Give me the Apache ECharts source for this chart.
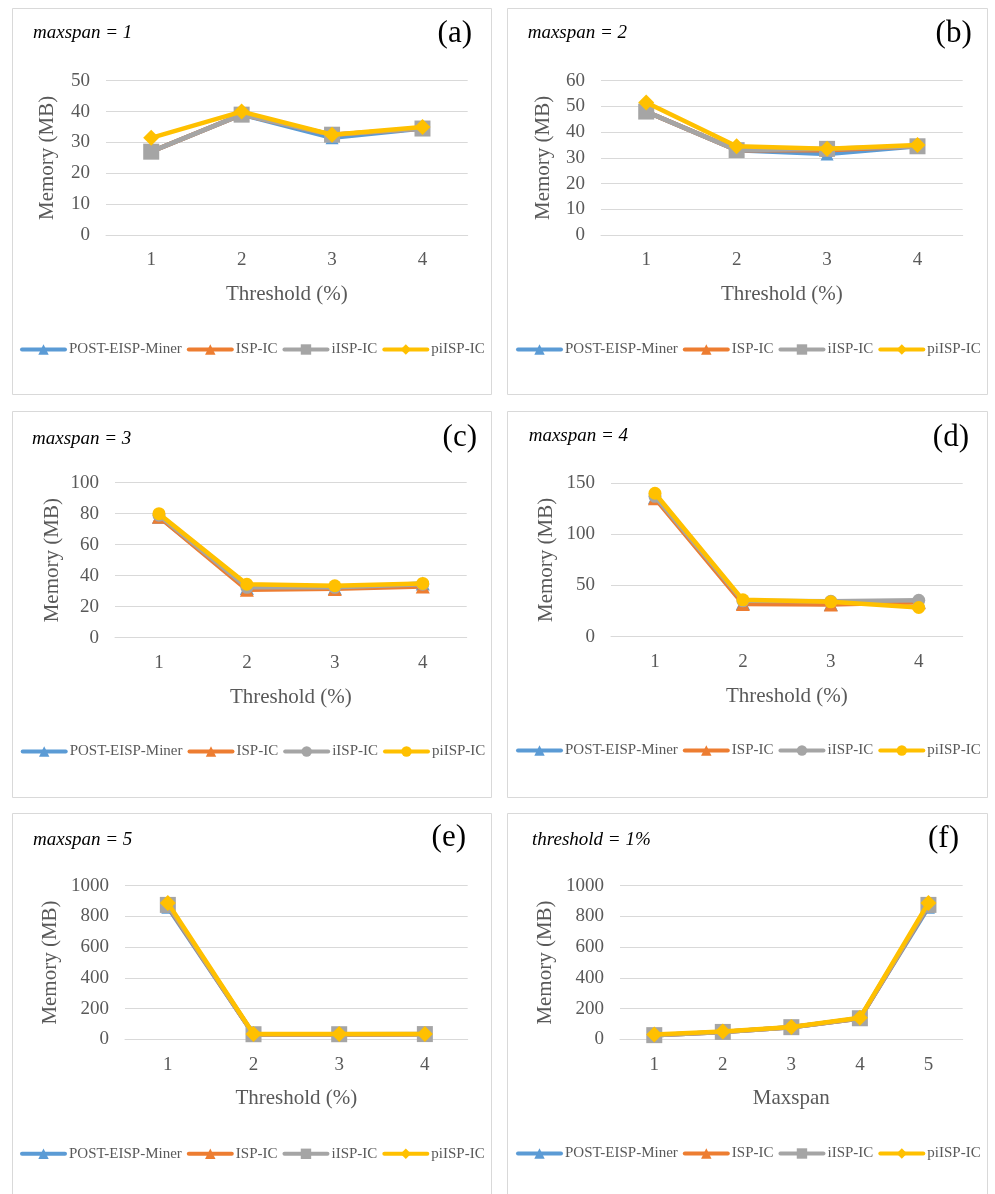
<!DOCTYPE html>
<html><head><meta charset="utf-8">
<script src="https://cdn.jsdelivr.net/npm/echarts@6/dist/echarts.min.js"></script>
<style>
html,body{margin:0;padding:0;background:#fff;width:995px;height:1194px;overflow:hidden;}
.p{position:absolute;}
</style></head><body>
<div id="pa" class="p" style="left:12px;top:8px;width:480px;height:387px"></div>
<div id="pb" class="p" style="left:507px;top:8px;width:481px;height:387px"></div>
<div id="pc" class="p" style="left:12px;top:411px;width:480px;height:387px"></div>
<div id="pd" class="p" style="left:507px;top:411px;width:481px;height:387px"></div>
<div id="pe" class="p" style="left:12px;top:813px;width:480px;height:387px"></div>
<div id="pf" class="p" style="left:507px;top:813px;width:481px;height:387px"></div>
<script>
// ---- data ----
const thresholdCats = ['1', '2', '3', '4'];
const maxspanCats = ['1', '2', '3', '4', '5'];
const seriesNames = ['POST-EISP-Miner', 'ISP-IC', 'iISP-IC', 'piISP-IC'];

// (a) maxspan = 1
const a_post  = [27, 39, 31.5, 34.5];
const a_isp   = [27, 39, 32.5, 34.5];
const a_iisp  = [27, 39, 32.5, 34.5];
const a_piisp = [31.5, 40, 32.5, 35];
// (b) maxspan = 2
const b_post  = [48, 33, 31.5, 34.5];
const b_isp   = [48, 33, 33, 34.5];
const b_iisp  = [48, 33, 33.5, 34.5];
const b_piisp = [51.5, 34.5, 33.5, 35];
// (c) maxspan = 3
const c_post  = [78, 32, 32, 35];
const c_isp   = [78, 31, 31.5, 33];
const c_iisp  = [79, 32.5, 32.5, 34.5];
const c_piisp = [80, 34.5, 33.5, 35];
// (d) maxspan = 4
const d_post  = [136, 33, 32, 34];
const d_isp   = [135, 32, 31.5, 33.5];
const d_iisp  = [137, 35, 34.5, 35.5];
const d_piisp = [140, 36, 34, 28.5];
// (e) maxspan = 5
const e_post  = [860, 32, 32, 33];
const e_isp   = [870, 32, 32, 33];
const e_iisp  = [875, 33, 33, 34];
const e_piisp = [888, 35, 34, 35];
// (f) threshold = 1%
const f_post  = [27, 48, 78, 136, 860];
const f_isp   = [27, 48, 78, 135, 870];
const f_iisp  = [27, 48, 79, 137, 875];
const f_piisp = [31.5, 51.5, 80, 140, 888];

// ---- styling ----
const COLORS = ['#5B9BD5', '#ED7D31', '#A5A5A5', '#FFC000'];
const SERIF = "'Liberation Serif', 'Times New Roman', serif";
const GRAY_TXT = '#595959';
const GRID_LINE = '#D9D9D9';
const SYM_SQ = ['triangle', 'triangle', 'rect', 'diamond'];
const SYM_CI = ['triangle', 'triangle', 'circle', 'circle'];
const SIZE_SQ = [13, 13, 16, 16];
const SIZE_CI = [14, 14, 13, 13];

function buildPanel(id, cfg) {
  const el = document.getElementById(id);
  const chart = echarts.init(el, null, {renderer: 'canvas'});
  const w = el.clientWidth, h = el.clientHeight;
  const series = cfg.data.map((d, i) => ({
    name: seriesNames[i],
    type: 'line',
    data: d,
    symbol: cfg.symbols[i],
    symbolSize: cfg.sizes[i],
    showSymbol: true,
    lineStyle: {width: 4.5, color: COLORS[i], cap: 'round', join: 'round'},
    itemStyle: {color: COLORS[i]},
    emphasis: {disabled: true},
    z: 2 + i
  }));
  chart.setOption({
    animation: false,
    backgroundColor: '#fff',
    color: COLORS,
    grid: {left: cfg.grid[0], top: cfg.grid[1], width: cfg.grid[2], height: cfg.grid[3], containLabel: false, outerBoundsMode: 'none'},
    xAxis: {
      type: 'category',
      data: cfg.cats,
      boundaryGap: true,
      axisLine: {show: true, lineStyle: {color: GRID_LINE, width: 1}},
      axisTick: {show: false},
      axisLabel: {color: GRAY_TXT, fontSize: 19, fontFamily: SERIF, margin: 16},
      splitLine: {show: false},
      name: cfg.xName,
      nameLocation: 'middle',
      nameGap: 49,
      nameMoveOverlap: false,
      nameTextStyle: {color: GRAY_TXT, fontSize: 21, fontFamily: SERIF}
    },
    yAxis: {
      type: 'value',
      min: 0, max: cfg.yMax, interval: cfg.yInt,
      axisLine: {show: false},
      axisTick: {show: false},
      axisLabel: {color: GRAY_TXT, fontSize: 19, fontFamily: SERIF, margin: 16, formatter: v => String(v)},
      splitLine: {show: true, lineStyle: {color: GRID_LINE, width: 1}},
      name: 'Memory (MB)',
      nameLocation: 'middle',
      nameRotate: 90,
      nameGap: cfg.yNameGap,
      nameMoveOverlap: false,
      nameTextStyle: {color: GRAY_TXT, fontSize: 21, fontFamily: SERIF}
    },
    legend: {
      data: seriesNames,
      left: cfg.legend[0],
      top: cfg.legend[1] - 7,
      orient: 'horizontal',
      itemWidth: 43,
      itemHeight: 13,
      itemGap: 5,
      padding: 0,
      selectedMode: false,
      lineStyle: {width: 4, cap: 'round'},
      textStyle: {color: GRAY_TXT, fontSize: 15, fontFamily: SERIF, padding: [0, 0, 0, -1]}
    },
    graphic: [
      {type: 'rect', shape: {x: 0.5, y: 0.5, width: w - 1, height: h - 1}, style: {fill: null, stroke: GRID_LINE, lineWidth: 1}, silent: true, z: 0},
      {type: 'text', left: cfg.title[0], top: cfg.title[1] - 11, style: {text: cfg.titleText, font: 'italic 19px ' + SERIF, fill: '#000'}},
      {type: 'text', right: w - cfg.letter[0], top: cfg.letter[1] - 18, style: {text: cfg.letterText, font: '31px ' + SERIF, fill: '#000'}}
    ],
    series: series
  });
}

buildPanel('pa', {cats: thresholdCats, data: [a_post, a_isp, a_iisp, a_piisp], symbols: SYM_SQ, sizes: SIZE_SQ,
  grid: [94, 72.7, 361.7, 154.3], yMax: 50, yInt: 10, yNameGap: 48, xName: 'Threshold (%)',
  legend: [8, 341], title: [21, 26], titleText: 'maxspan = 1', letter: [460, 28], letterText: '(a)'});
buildPanel('pb', {cats: thresholdCats, data: [b_post, b_isp, b_iisp, b_piisp], symbols: SYM_SQ, sizes: SIZE_SQ,
  grid: [94, 72.7, 361.7, 154.3], yMax: 60, yInt: 10, yNameGap: 47, xName: 'Threshold (%)',
  legend: [9, 341], title: [20.7, 26], titleText: 'maxspan = 2', letter: [464.7, 28.4], letterText: '(b)'});
buildPanel('pc', {cats: thresholdCats, data: [c_post, c_isp, c_iisp, c_piisp], symbols: SYM_CI, sizes: SIZE_CI,
  grid: [103, 71.7, 351.7, 155], yMax: 100, yInt: 20, yNameGap: 52, xName: 'Threshold (%)',
  legend: [8.7, 340], title: [20, 29.6], titleText: 'maxspan = 3', letter: [465, 29], letterText: '(c)'});
buildPanel('pd', {cats: thresholdCats, data: [d_post, d_isp, d_iisp, d_piisp], symbols: SYM_CI, sizes: SIZE_CI,
  grid: [104, 72, 351.7, 153.7], yMax: 150, yInt: 50, yNameGap: 54.5, xName: 'Threshold (%)',
  legend: [9, 339], title: [21.7, 26], titleText: 'maxspan = 4', letter: [462, 29.7], letterText: '(d)'});
buildPanel('pe', {cats: thresholdCats, data: [e_post, e_isp, e_iisp, e_piisp], symbols: SYM_SQ, sizes: SIZE_SQ,
  grid: [113, 72.7, 342.7, 153.6], yMax: 1000, yInt: 200, yNameGap: 64.5, xName: 'Threshold (%)',
  legend: [8, 340.3], title: [21, 28.6], titleText: 'maxspan = 5', letter: [454, 27.2], letterText: '(e)'});
buildPanel('pf', {cats: maxspanCats, data: [f_post, f_isp, f_iisp, f_piisp], symbols: SYM_SQ, sizes: SIZE_SQ,
  grid: [113, 72.7, 342.7, 153.6], yMax: 1000, yInt: 200, yNameGap: 64.5, xName: 'Maxspan',
  legend: [9, 340], title: [25, 28.6], titleText: 'threshold = 1%', letter: [452, 28.6], letterText: '(f)'});
</script>
</body></html>
